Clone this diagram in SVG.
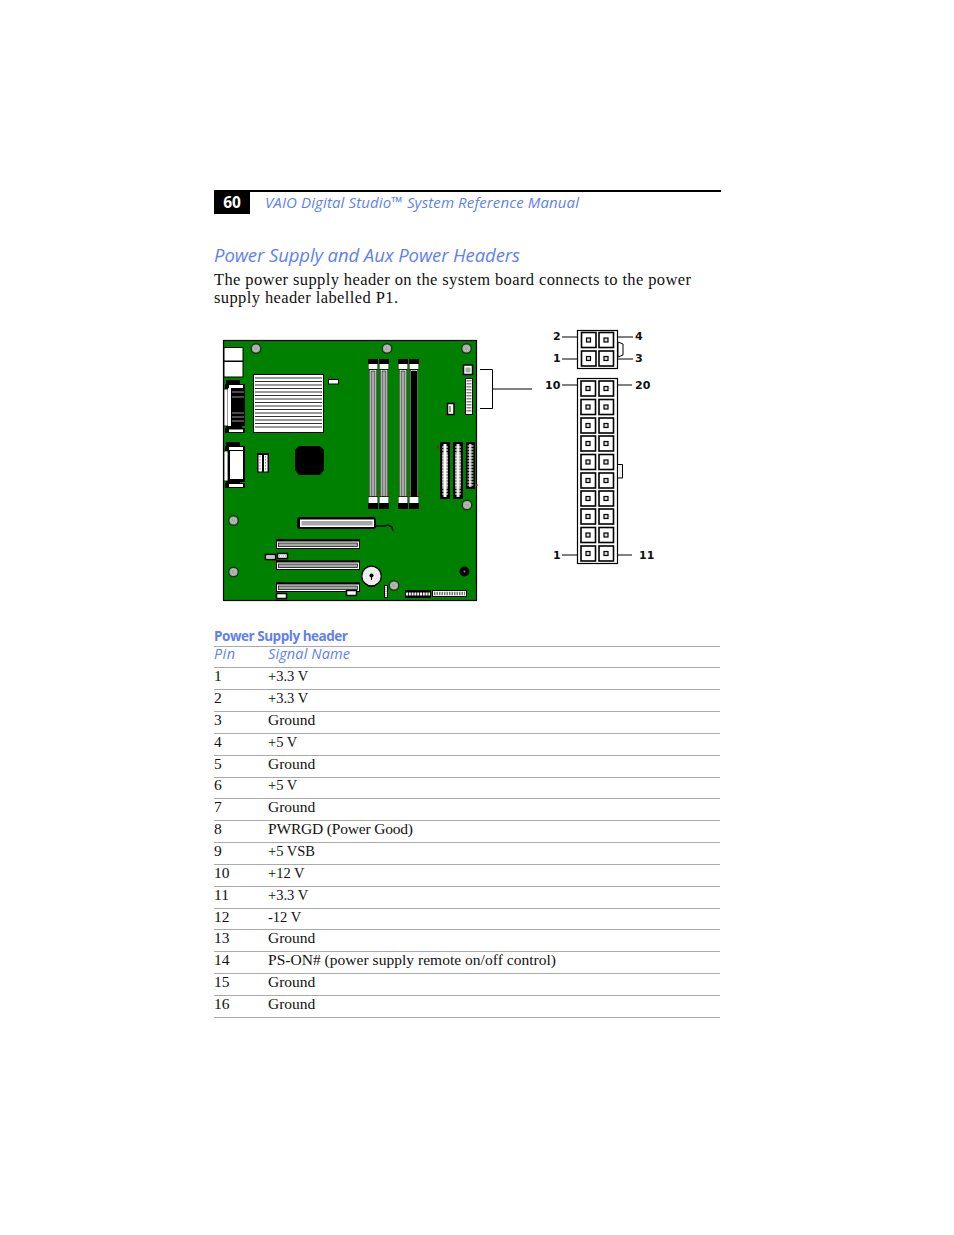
<svg xmlns="http://www.w3.org/2000/svg" xmlns:xlink="http://www.w3.org/1999/xlink" width="954" height="1235" viewBox="0 0 954 1235">
<style>
.s{font-family:"Open Sans","Noto Sans","DejaVu Sans",sans-serif;fill:#5f7ff5}
.i{font-style:italic}
.b{font-family:"Liberation Serif","DejaVu Serif",serif;font-size:15.500px;fill:#111}
.v{font-size:14.500px}
.l{font-family:"DejaVu Sans",sans-serif;font-size:11px;font-weight:bold;fill:#111}
.r{stroke:#aaa;stroke-width:1;fill:none}
.k{stroke:#000;stroke-width:1;fill:none}
.w{fill:#fff;stroke:#000;stroke-width:1}
.t{fill:#fff;stroke:#000;stroke-width:1.500}
.n{fill:#000}
.g{fill:#a8a8a8}
.p{fill:#fff;stroke:#000;stroke-width:1.600}
.q{fill:#ddd;stroke:#000;stroke-width:1.200}
.m{fill:#d00000}
</style>
<defs>
<g id="pin"><rect x="-7" y="-7.500" width="14.500" height="15" class="p"/><rect x="-2" y="-2" width="4" height="4" class="q"/></g>
<g id="screw"><circle r="4.800" fill="#a8a8a8" stroke="#1a3a1a" stroke-width="1.400"/><circle r="2.400" fill="none" stroke="#ddd" stroke-width="1" stroke-dasharray="1 1"/></g>
<g id="dimm"><rect x="-5" y="0" width="10" height="10.500" class="n"/><rect x="-4.500" y="5" width="9" height="5" fill="#fff"/><rect x="-4" y="10.500" width="8" height="127" class="n"/><rect x="-3.400" y="11" width="6.800" height="126.500" fill="#fff"/><rect x="-2" y="12" width="4" height="125.500" fill="#a8a8a8" stroke="#000" stroke-width=".6"/><rect x="-5" y="137.500" width="10" height="12.500" class="n"/><rect x="-4.500" y="138" width="9" height="6" fill="#fff"/></g>
<g id="pci"><rect x="0.500" y="0.500" width="83" height="8.500" class="w"/><rect x="0" y="0" width="84" height="2" class="n"/><rect x="2.500" y="3.500" width="79" height="3.500" class="g" stroke="#000" stroke-width=".7"/></g>
<path id="comb" d="M-3 3H3M-3 6H3M-3 9H3M-3 12H3M-3 15H3M-3 18H3M-3 21H3M-3 24H3M-3 27H3M-3 30H3M-3 33H3M-3 36H3M-3 39H3M-3 42H3" stroke="#fff" stroke-width="1.200"/>
</defs>
<rect width="954" height="1235" fill="#fff"/>
<g id="page-header">
<rect x="214" y="190" width="507" height="2" class="n"/>
<rect x="214" y="190" width="36" height="24" class="n"/>
<text x="232" y="208" text-anchor="middle" font-family="'Open Sans','Noto Sans',sans-serif" font-size="15.500" font-weight="bold" fill="#fff">60</text>
<text x="265" y="208" class="s i" font-size="15" textLength="314">VAIO Digital Studio™ System Reference Manual</text>
</g>
<g id="intro">
<text x="214" y="262" class="s i" font-size="18.500" textLength="306">Power Supply and Aux Power Headers</text>
<text x="214" y="285" class="b" style="font-size:16.500px" textLength="477">The power supply header on the system board connects to the power</text>
<text x="214" y="303" class="b" style="font-size:16.500px" textLength="184">supply header labelled P1.</text>
</g>
<g id="motherboard">
<rect x="223.500" y="340.500" width="253" height="260" fill="#008000" stroke="#000" stroke-width="1.200"/>
<rect x="224" y="347.500" width="19" height="13.500" class="w"/><rect x="224" y="361.500" width="19" height="15.500" class="w"/>
<g id="serial-port">
<rect x="226" y="380" width="14" height="5" class="n"/><rect x="225" y="384" width="20" height="5" class="n"/><rect x="229" y="385" width="14" height="3" fill="#fff"/>
<rect x="224" y="389" width="4" height="37" fill="#fff" stroke="#000" stroke-width=".8"/>
<rect x="228" y="388" width="3" height="38" fill="#fff"/>
<rect x="231" y="388" width="14" height="38" class="n"/>
<path d="M232 392H244M232 397H244M232 413H244M232 417H244M232 421H244" stroke="#bbb" stroke-width=".8"/>
<rect x="226" y="426" width="16" height="3" class="n"/><rect x="225" y="428" width="20" height="5" class="n"/><rect x="229" y="429.500" width="14" height="2.500" fill="#fff"/>
</g>
<g id="parallel-port">
<rect x="226" y="442" width="14" height="5" class="n"/><rect x="225" y="446" width="20" height="5" class="n"/><rect x="229" y="447" width="14" height="3" fill="#fff"/>
<rect x="224" y="451" width="4" height="30" fill="#fff" stroke="#000" stroke-width=".8"/>
<rect x="228" y="451" width="17" height="31" class="n"/><rect x="230" y="451" width="13" height="28" fill="#fff"/>
<rect x="226" y="481" width="14" height="3" class="n"/><rect x="225" y="483" width="20" height="5" class="n"/><rect x="229" y="484" width="14" height="3" fill="#fff"/>
</g>
<g id="heatsink"><rect x="253.500" y="374.500" width="70" height="58" fill="#fff" stroke="#000" stroke-width="1"/>
<path d="M255 378H322M255 381.500H322M255 385H322M255 388.500H322M255 392H322M255 395.500H322M255 399H322M255 402.500H322M255 406H322M255 409.500H322M255 413H322M255 416.500H322M255 420H322M255 423.500H322M255 427H322" stroke="#333" stroke-width="1"/></g>
<rect x="328.500" y="379.500" width="10" height="4.500" class="w"/><rect x="330" y="377.500" width="2" height="1" class="m"/>
<g id="bracket-header"><rect x="257" y="453" width="12" height="19.500" class="n"/><rect x="258.500" y="455" width="3.500" height="16.500" fill="#fff"/><rect x="264" y="455" width="3.500" height="16.500" fill="#fff"/><path d="M260 456V471M265.500 456V471" stroke="#999" stroke-width="1.200" stroke-dasharray="1.500 1.500"/></g>
<path d="M299 446H320L324 450V470L320 475H299L295 470V450Z" class="n"/>
<use xlink:href="#screw" x="256" y="348.500"/><use xlink:href="#screw" x="387" y="348.500"/><use xlink:href="#screw" x="466.500" y="348.500"/><use xlink:href="#screw" x="233.500" y="520.500"/><use xlink:href="#screw" x="233.500" y="572"/><use xlink:href="#screw" x="467" y="505"/><use xlink:href="#screw" x="394" y="585.500"/>
<g id="memory-slots"><use xlink:href="#dimm" x="373" y="359"/><use xlink:href="#dimm" x="384" y="359"/><use xlink:href="#dimm" x="403" y="359"/><use xlink:href="#dimm" x="414" y="359"/><rect x="411" y="371" width="6" height="126" class="n"/>
<rect x="378" y="492" width="1.500" height="1.500" class="m"/><rect x="389" y="492" width="1.500" height="1.500" class="m"/><rect x="408" y="492" width="1.500" height="1.500" class="m"/><rect x="419" y="492" width="1.500" height="1.500" class="m"/></g>
<g id="right-headers">
<rect x="463.500" y="365" width="9" height="9.500" class="t"/><rect x="465.500" y="367.500" width="5" height="5" fill="#aaa"/>
<rect x="465.500" y="378.500" width="7" height="36" class="w"/><path d="M469 380V413" stroke="#888" stroke-dasharray="1.500 1.500" stroke-width="5"/>
<rect x="447.500" y="403.500" width="6.500" height="11" class="t"/><rect x="449" y="406" width="2" height="6" fill="#999"/>
<g id="edge-a"><rect x="440" y="442" width="10" height="57" class="n"/><rect x="443.500" y="444" width="3" height="53" fill="#fff"/><use xlink:href="#comb" x="445" y="444"/><use xlink:href="#comb" x="445" y="452"/></g>
<g id="edge-b"><rect x="453" y="442" width="10" height="57" class="n"/><rect x="456.500" y="444" width="3" height="53" fill="#ddd"/><use xlink:href="#comb" x="458" y="444"/><use xlink:href="#comb" x="458" y="452"/></g>
<g id="edge-c"><rect x="466" y="442" width="9" height="47" class="n"/><rect x="469" y="444" width="2.500" height="43" fill="#bbb"/><use xlink:href="#comb" x="470.500" y="443"/></g>
<rect x="437" y="446.500" width="2" height="2" class="m"/><rect x="451" y="446" width="1" height="2" class="m"/><rect x="476" y="484" width="1.500" height="2" class="m"/>
<rect x="464" y="412" width="1.500" height="1.500" class="m"/><rect x="445" y="413" width="2" height="2" class="m"/>
</g>
<g id="agp-slot"><rect x="297" y="517" width="79" height="12" rx="3" class="n"/><rect x="300" y="519.500" width="74" height="7.500" fill="#fff"/><rect x="301.500" y="521" width="71" height="4.500" fill="#a8a8a8"/>
<path d="M376 526H384L388 525L392 527L393 531" fill="none" stroke="#000" stroke-width="1.400"/></g>
<g id="pci-slots"><use xlink:href="#pci" x="276" y="539.500"/><use xlink:href="#pci" x="276" y="560.500"/><use xlink:href="#pci" x="276" y="582.500"/>
<rect x="279" y="537.500" width="1.500" height="1.500" class="m"/><rect x="279" y="558.500" width="1.500" height="1.500" class="m"/><rect x="279" y="580.500" width="1.500" height="1.500" class="m"/><rect x="273" y="560" width="2" height="1.500" class="m"/></g>
<rect x="265.500" y="554.500" width="10" height="5" class="t"/><path d="M267 557H274" stroke="#888"/>
<rect x="277.500" y="553.500" width="10" height="5" class="t"/><path d="M279 556H286" stroke="#888" stroke-dasharray="1 1"/>
<rect x="276.500" y="593.500" width="10" height="5" class="t"/>
<rect x="346.500" y="590.500" width="10" height="5" class="t"/>
<g id="battery"><path d="M368.500 583H375V587H368.500Z" class="n"/><circle cx="371.500" cy="576" r="9.800" fill="#eee" stroke="#000" stroke-width="1.300"/><circle cx="371.500" cy="575.500" r="2" class="n"/><rect x="371" y="576" width="1" height="4" class="n"/></g>
<rect x="384.500" y="585.500" width="3" height="12" class="w"/><path d="M386 587V597" stroke="#666" stroke-dasharray="1 1"/>
<circle cx="464.500" cy="571.500" r="5" class="n"/><circle cx="464.500" cy="571.500" r="1" fill="#888"/>
<g id="front-panel"><rect x="405" y="590" width="26" height="8" class="n"/><path d="M406 594H430" stroke="#fff" stroke-width="3" stroke-dasharray="2 .8"/>
<rect x="432.500" y="590.500" width="34" height="6" class="w"/><path d="M434 593.500H465" stroke="#777" stroke-width="3.500" stroke-dasharray="1.500 1"/></g>
</g>
<g id="connectors">
<path d="M480 369.500H492.500V408.500H480M492.500 389H532" class="k"/>
<path d="M562 337H577M562 359H577M618 337H633M618 359H633M562 385H577M618 385H632M562 555H577M618 555H632" class="k"/>
</g>
<g id="aux-header">
<rect x="577.500" y="330.500" width="40" height="38" fill="#fff" stroke="#000" stroke-width="1.200"/>
<use xlink:href="#pin" x="588.500" y="340"/><use xlink:href="#pin" x="606" y="340"/><use xlink:href="#pin" x="588.500" y="358.500"/><use xlink:href="#pin" x="606" y="358.500"/>
<path d="M618 342L623 344V355L618 357Z" fill="#fff" stroke="#000"/>
<text x="553" y="340" class="l">2</text><text x="553" y="362" class="l">1</text><text x="635" y="340" class="l">4</text><text x="635" y="362" class="l">3</text>
</g>
<g id="main-header">
<rect x="577.500" y="378.500" width="40" height="185" fill="#fff" stroke="#000" stroke-width="1.200"/>
<use xlink:href="#pin" x="588" y="388.500"/><use xlink:href="#pin" x="606" y="388.500"/>
<use xlink:href="#pin" x="588" y="407"/><use xlink:href="#pin" x="606" y="407"/>
<use xlink:href="#pin" x="588" y="425.500"/><use xlink:href="#pin" x="606" y="425.500"/>
<use xlink:href="#pin" x="588" y="443.500"/><use xlink:href="#pin" x="606" y="443.500"/>
<use xlink:href="#pin" x="588" y="462"/><use xlink:href="#pin" x="606" y="462"/>
<use xlink:href="#pin" x="588" y="480.500"/><use xlink:href="#pin" x="606" y="480.500"/>
<use xlink:href="#pin" x="588" y="498.500"/><use xlink:href="#pin" x="606" y="498.500"/>
<use xlink:href="#pin" x="588" y="516.500"/><use xlink:href="#pin" x="606" y="516.500"/>
<use xlink:href="#pin" x="588" y="535"/><use xlink:href="#pin" x="606" y="535"/>
<use xlink:href="#pin" x="588" y="553.500"/><use xlink:href="#pin" x="606" y="553.500"/>
<path d="M618 464.500H622.500V478H618" fill="#f0f0f0" stroke="#000"/>
<text x="545" y="389" class="l">10</text><text x="635" y="389" class="l">20</text><text x="553" y="559" class="l">1</text><text x="639" y="559" class="l">11</text>
</g>
<g id="pin-table">
<text x="214" y="641" class="s" font-size="13.500" font-weight="bold" textLength="134">Power Supply header</text>
<text x="214" y="659" class="s i" font-size="14.500" textLength="21">Pin</text>
<text x="268" y="659" class="s i" font-size="14.500" textLength="82">Signal Name</text>
<path class="r" d="M214 646.500H720M214 667.500H720M214 689.500H720M214 711.500H720M214 733.500H720M214 755.500H720M214 777.500H720M214 798.500H720M214 820.500H720M214 842.500H720M214 864.500H720M214 886.500H720M214 908.500H720M214 929.500H720M214 951.500H720M214 973.500H720M214 995.500H720M214 1017.500H720"/>
<g class="b">
<text x="214" y="681">1</text><text x="268" y="681" class="v">+3.3 V</text>
<text x="214" y="703">2</text><text x="268" y="703" class="v">+3.3 V</text>
<text x="214" y="725">3</text><text x="268" y="725">Ground</text>
<text x="214" y="747">4</text><text x="268" y="747" class="v">+5 V</text>
<text x="214" y="769">5</text><text x="268" y="769">Ground</text>
<text x="214" y="790">6</text><text x="268" y="790" class="v">+5 V</text>
<text x="214" y="812">7</text><text x="268" y="812">Ground</text>
<text x="214" y="834">8</text><text x="268" y="834" textLength="145">PWRGD (Power Good)</text>
<text x="214" y="856">9</text><text x="268" y="856" class="v">+5 VSB</text>
<text x="214" y="878">10</text><text x="268" y="878" class="v">+12 V</text>
<text x="214" y="900">11</text><text x="268" y="900" class="v">+3.3 V</text>
<text x="214" y="922">12</text><text x="268" y="922" class="v">-12 V</text>
<text x="214" y="943">13</text><text x="268" y="943">Ground</text>
<text x="214" y="965">14</text><text x="268" y="965" textLength="288">PS-ON# (power supply remote on/off control)</text>
<text x="214" y="987">15</text><text x="268" y="987">Ground</text>
<text x="214" y="1009">16</text><text x="268" y="1009">Ground</text>
</g>
</g>
</svg>
